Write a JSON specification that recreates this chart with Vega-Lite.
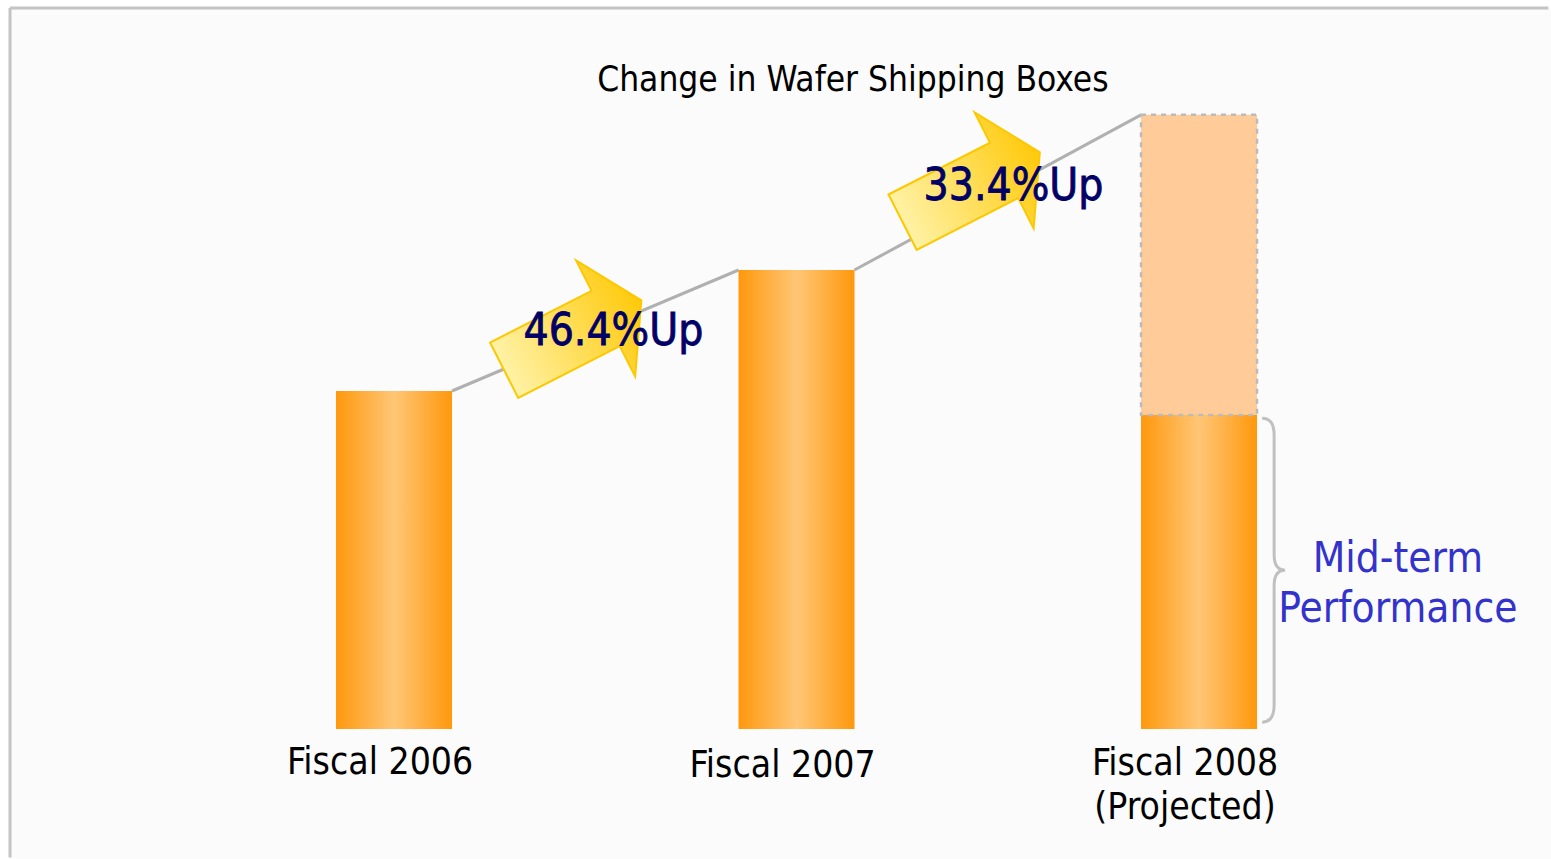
{
  "$schema": "https://vega.github.io/schema/vega-lite/v6.json",
  "autosize": {"type": "fit", "contains": "padding"},
  "width": 1551,
  "height": 859,
  "padding": 0,
  "background": "#ffffff",
  "config": {"view": {"stroke": null}},
  "datasets": {
    "frame": [{"year": 2005.046, "year2": 2008.8745, "value": 213.3, "value2": -38.46}],
    "border": [
      {"side": "top", "year": 2005.046, "year2": 2008.868, "value": 213.3, "value2": 213.3},
      {"side": "left", "year": 2005.046, "year2": 2005.046, "value": 213.3, "value2": -38.0}
    ],
    "bars": [
      {"year": 2006, "value": 100, "label": "Fiscal 2006"},
      {"year": 2007, "value": 135.8, "label": "Fiscal 2007"},
      {"year": 2008, "value": 92.9, "label": "Fiscal 2008 mid-term"}
    ],
    "projected": [{"year": 2008, "value": 181.7, "value2": 92.9}],
    "links": [
      {"seg": "2006-2007", "year": 2006.144, "value": 100},
      {"seg": "2006-2007", "year": 2006.856, "value": 135.8},
      {"seg": "2007-2008", "year": 2007.144, "value": 135.8},
      {"seg": "2007-2008", "year": 2007.856, "value": 181.7}
    ],
    "arrows": [
      {"year": 2006.444, "value": 116.5},
      {"year": 2007.434, "value": 160.3}
    ],
    "growth": [
      {"year": 2006.545, "value": 117.5, "label": "46.4%Up"},
      {"year": 2007.539, "value": 160.4, "label": "33.4%Up"}
    ],
    "xlabels": [
      {"year": 2006, "value": -4.7, "label": "Fiscal 2006"},
      {"year": 2007, "value": -5.6, "label": "Fiscal 2007"},
      {"year": 2008, "value": -5.0, "label": "Fiscal 2008\n(Projected)"}
    ],
    "title": [{"year": 2007.14, "value": 192.0, "label": "Change in Wafer Shipping Boxes"}],
    "brace": [{"year": 2008.184, "value": 47.0}],
    "note": [{"year": 2008.494, "value": 50.3, "label": "Mid-term\nPerformance"}]
  },
  "encoding": {
    "x": {"field": "year", "type": "quantitative", "scale": {"domain": [2005.0211, 2008.8745], "nice": false, "zero": false, "padding": 0}, "axis": null},
    "y": {"field": "value", "type": "quantitative", "scale": {"domain": [-38.46, 215.68], "nice": false, "zero": false, "padding": 0}, "axis": null}
  },
  "layer": [
    {
      "data": {"name": "frame"},
      "mark": {"type": "rect", "fill": "#fbfbfb"},
      "encoding": {
        "x2": {"field": "year2"},
        "y2": {"field": "value2"}
      }
    },
    {
      "data": {"name": "border"},
      "mark": {"type": "rule", "color": "#c4c4c4", "strokeWidth": 3},
      "encoding": {
        "x2": {"field": "year2"},
        "y2": {"field": "value2"}
      }
    },
    {
      "data": {"name": "links"},
      "mark": {"type": "line", "color": "#b0b0b0", "strokeWidth": 3},
      "encoding": {"detail": {"field": "seg"}}
    },
    {
      "data": {"name": "bars"},
      "mark": {
        "type": "bar", "orient": "vertical", "width": 116,
        "fill": {"gradient": "linear", "x1": 0, "y1": 0, "x2": 1, "y2": 0,
          "stops": [
            {"offset": 0, "color": "#ff980c"},
            {"offset": 0.5, "color": "#ffc676"},
            {"offset": 1, "color": "#ff980c"}
          ]}
      },
      "encoding": {"y2": {"datum": 0}}
    },
    {
      "data": {"name": "projected"},
      "mark": {"type": "bar", "orient": "vertical", "width": 116, "fill": "#ffcc99", "stroke": "#bbbbbb", "strokeWidth": 2.5, "strokeDash": [5, 5]},
      "encoding": {"y2": {"field": "value2"}}
    },
    {
      "data": {"name": "arrows"},
      "mark": {
        "type": "point",
        "shape": "M -1 -0.403 L 0.48 -0.403 L 0.48 -0.844 L 1 0 L 0.48 0.844 L 0.48 0.403 L -1 0.403 Z",
        "size": 23716,
        "angle": 333,
        "filled": true,
        "opacity": 1,
        "fill": {"gradient": "linear", "x1": 0, "y1": 0, "x2": 1, "y2": 0,
          "stops": [
            {"offset": 0, "color": "#fff2a6"},
            {"offset": 1, "color": "#ffc90a"}
          ]},
        "stroke": "#fcc800",
        "strokeWidth": 2
      }
    },
    {
      "data": {"name": "brace"},
      "mark": {
        "type": "point",
        "shape": "M -0.072 -1 Q 0.007 -1 0.007 -0.888 L 0.007 -0.099 Q 0.007 0 0.079 0 Q 0.007 0 0.007 0.099 L 0.007 0.888 Q 0.007 1 -0.072 1",
        "size": 92416,
        "filled": false,
        "fill": null,
        "opacity": 1,
        "stroke": "#c0c0c0",
        "strokeWidth": 3
      }
    },
    {
      "data": {"name": "growth"},
      "mark": {"type": "text", "font": "DejaVu Sans Condensed, sans-serif", "fontSize": 44, "color": "#000066", "align": "center", "baseline": "middle", "stroke": "#000066", "strokeWidth": 0.8},
      "encoding": {"text": {"field": "label"}}
    },
    {
      "data": {"name": "title"},
      "mark": {"type": "text", "font": "DejaVu Sans Condensed, sans-serif", "fontSize": 35, "color": "#000000", "align": "center", "baseline": "middle"},
      "encoding": {"text": {"field": "label"}}
    },
    {
      "data": {"name": "xlabels"},
      "mark": {"type": "text", "font": "DejaVu Sans Condensed, sans-serif", "fontSize": 37, "color": "#000000", "align": "center", "baseline": "top", "dx": -14, "lineBreak": "\n", "lineHeight": 44},
      "encoding": {"text": {"field": "label"}}
    },
    {
      "data": {"name": "note"},
      "mark": {"type": "text", "font": "DejaVu Sans Condensed, sans-serif", "fontSize": 42, "color": "#3333cc", "align": "center", "baseline": "middle", "lineBreak": "\n", "lineHeight": 50},
      "encoding": {"text": {"field": "label"}}
    }
  ]
}
